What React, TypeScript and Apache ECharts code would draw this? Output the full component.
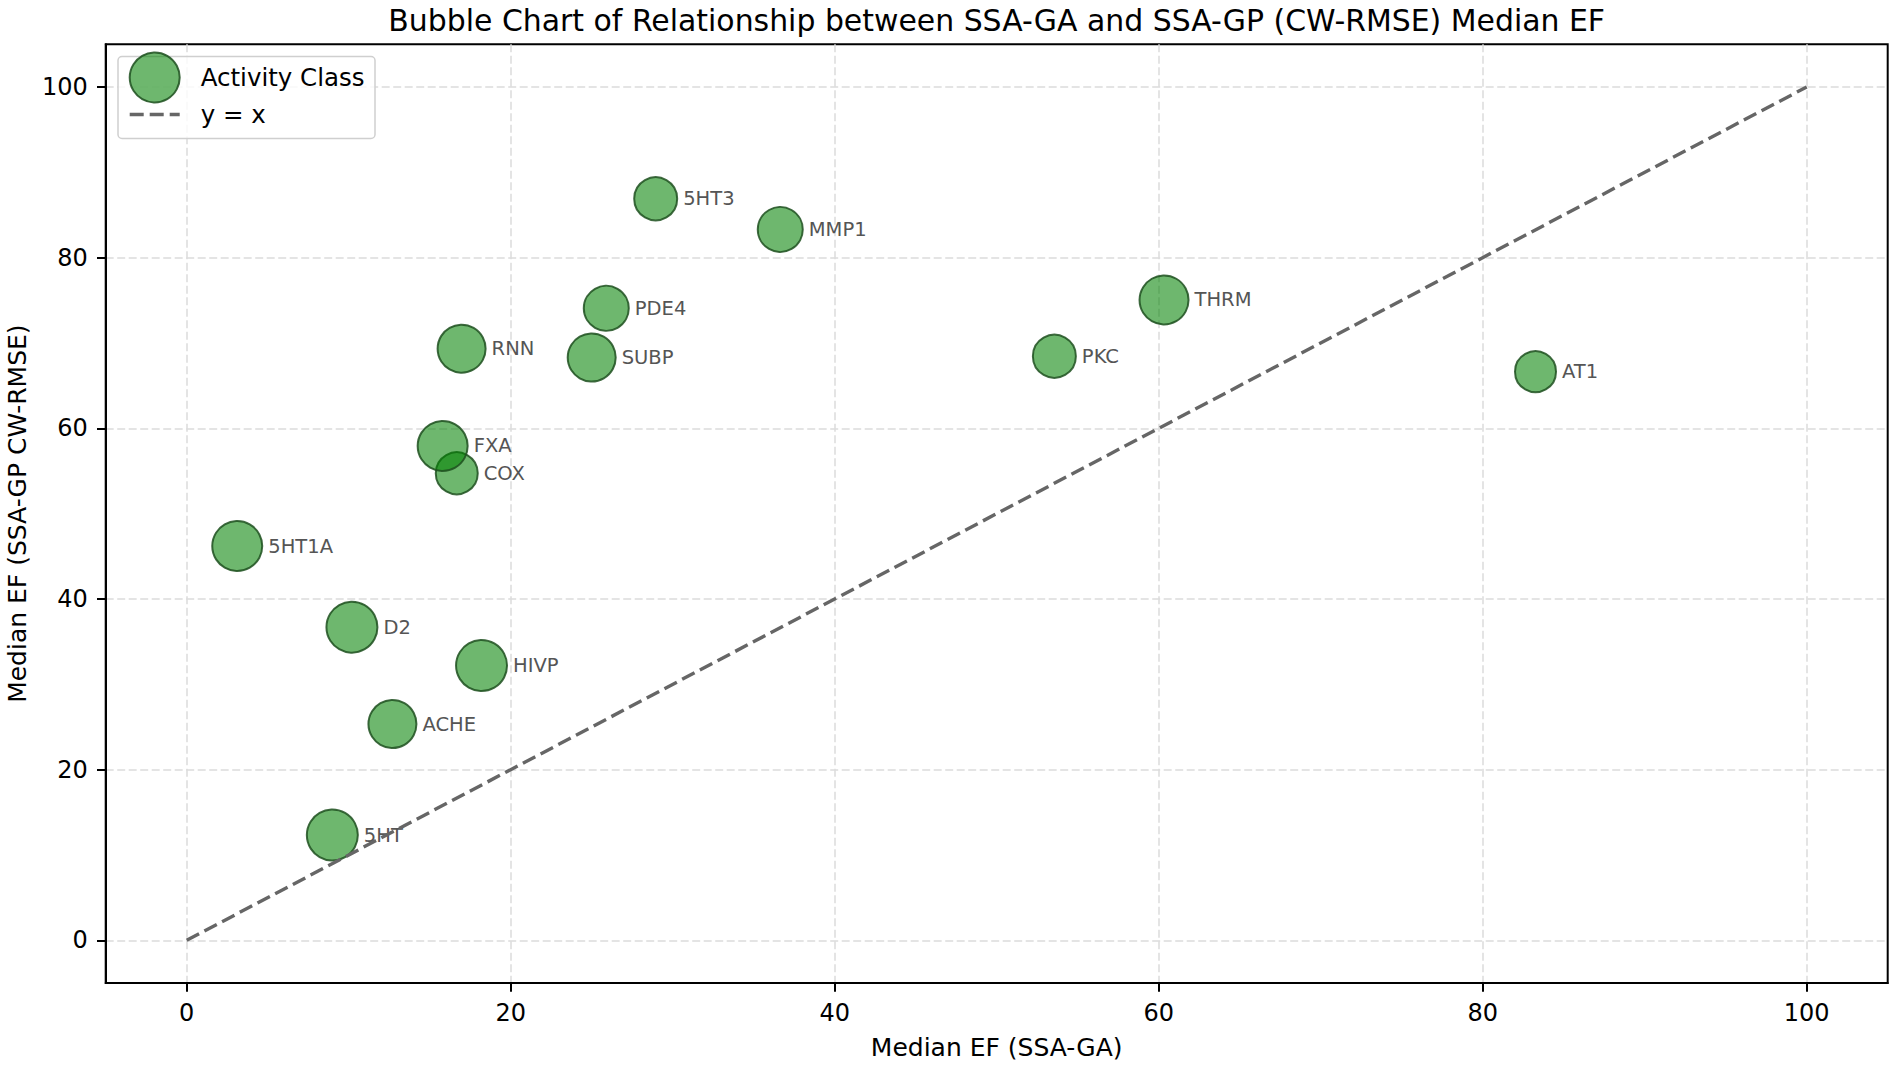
import React, { useEffect, useRef } from 'react';
import * as echarts from 'echarts';

const classNames = ['5HT3', 'MMP1', 'THRM', 'PDE4', 'RNN', 'SUBP', 'PKC', 'AT1', 'COX', 'FXA', '5HT1A', 'D2', 'HIVP', 'ACHE', '5HT'];
const ssaGA = [28.95, 36.64, 60.33, 25.9, 16.97, 25.0, 53.56, 83.26, 16.67, 15.8, 3.12, 10.2, 18.2, 12.7, 8.99];
const ssaGP = [86.9, 83.3, 75.04, 74.06, 69.33, 68.3, 68.45, 66.64, 54.73, 57.93, 46.2, 36.7, 32.2, 25.35, 12.34];
const bubbleSize = [43, 45, 49, 45, 48, 48, 43, 41, 42, 50, 50, 51, 51, 48, 51];
const diagX = [0, 100];
const diagY = [0, 100];
const xTicks = [0, 20, 40, 60, 80, 100];
const yTicks = [0, 20, 40, 60, 80, 100];

const FONT = 'DejaVu Sans';

export default function App() {
  const ref = useRef<HTMLDivElement>(null);
  useEffect(() => {
    const chart = echarts.init(ref.current as HTMLDivElement, null, { renderer: 'svg' });
    const scatterData = classNames.map((n, i) => ({ name: n, value: [ssaGA[i], ssaGP[i], bubbleSize[i]] }));
    const lineData = diagX.map((x, i) => [x, diagY[i]]);
    const splitLine = { show: true, lineStyle: { color: '#dcdcdc', width: 1.5, type: [8, 3.5] } };
    chart.setOption({
      animation: false,
      backgroundColor: '#ffffff',
      textStyle: { fontFamily: FONT },
      title: {
        text: 'Bubble Chart of Relationship between SSA-GA and SSA-GP (CW-RMSE) Median EF',
        left: 996.7,
        top: 5,
        textAlign: 'center',
        padding: 0,
        textStyle: { fontSize: 29.9, fontWeight: 'normal', color: '#000', fontFamily: FONT },
      },
      grid: {
        left: 105.7,
        top: 44.3,
        width: 1782,
        height: 938.7,
        show: true,
        borderColor: '#000',
        borderWidth: 2,
        backgroundColor: 'transparent',
        containLabel: false,
        outerBoundsMode: 'none',
      },
      legend: {
        orient: 'vertical',
        left: 128,
        top: 51.5,
        padding: 0,
        itemWidth: 50,
        itemHeight: 50,
        itemGap: -9,
        selectedMode: false,
        textStyle: { fontSize: 24.5, color: '#000', padding: [0, 0, 0, 16], fontFamily: FONT },
        itemStyle: { borderWidth: 2, opacity: 1 },
        lineStyle: { width: 3.4 },
        data: [
          { name: 'Activity Class' },
          { name: 'y = x', itemStyle: { opacity: 0 } },
        ],
        z: 4,
      },
      graphic: [
        {
          type: 'rect',
          z: 3,
          shape: { x: 118, y: 56.5, width: 257, height: 82, r: 4 },
          style: { fill: 'rgba(255,255,255,0.8)', stroke: '#cfcfcf', lineWidth: 1.5 },
        },
      ],
      xAxis: {
        type: 'value',
        min: -5,
        max: 105,
        name: 'Median EF (SSA-GA)',
        nameLocation: 'middle',
        nameGap: 52,
        nameTextStyle: { fontSize: 25, color: '#000', fontFamily: FONT },
        axisLine: { show: true, onZero: false, lineStyle: { color: '#000', width: 2 } },
        axisTick: { show: true, length: 8.7, customValues: xTicks, lineStyle: { color: '#000', width: 2 } },
        axisLabel: { customValues: xTicks, margin: 18, fontSize: 24, color: '#000', fontFamily: FONT },
        splitLine,
      },
      yAxis: {
        type: 'value',
        min: -5,
        max: 105,
        name: 'Median EF (SSA-GP CW-RMSE)',
        nameLocation: 'middle',
        nameGap: 76,
        nameTextStyle: { fontSize: 25, color: '#000', fontFamily: FONT },
        axisLine: { show: true, onZero: false, lineStyle: { color: '#000', width: 2 } },
        axisTick: { show: true, length: 8.7, customValues: yTicks, lineStyle: { color: '#000', width: 2 } },
        axisLabel: { customValues: yTicks, margin: 18, fontSize: 24, color: '#000', fontFamily: FONT },
        splitLine,
      },
      series: [
        {
          type: 'scatter',
          name: 'Activity Class',
          data: scatterData,
          symbolSize: (v: number[]) => v[2],
          itemStyle: { color: 'rgba(0,128,0,0.57)', borderColor: 'rgba(30,80,32,0.85)', borderWidth: 2, opacity: 1 },
          label: {
            show: true,
            position: 'right',
            distance: 5,
            formatter: '{b}',
            fontSize: 19.5,
            color: '#555555',
            fontFamily: FONT,
          },
          emphasis: { disabled: true },
          z: 2,
        },
        {
          type: 'line',
          name: 'y = x',
          data: lineData,
          symbol: 'none',
          lineStyle: { color: '#666666', width: 3.4, type: [14, 6] },
          emphasis: { disabled: true },
          z: 3,
        },
      ],
    });
    return () => chart.dispose();
  }, []);
  return <div ref={ref} style={{ position: 'absolute', left: 0, top: 0, width: 1894, height: 1065 }} />;
}
